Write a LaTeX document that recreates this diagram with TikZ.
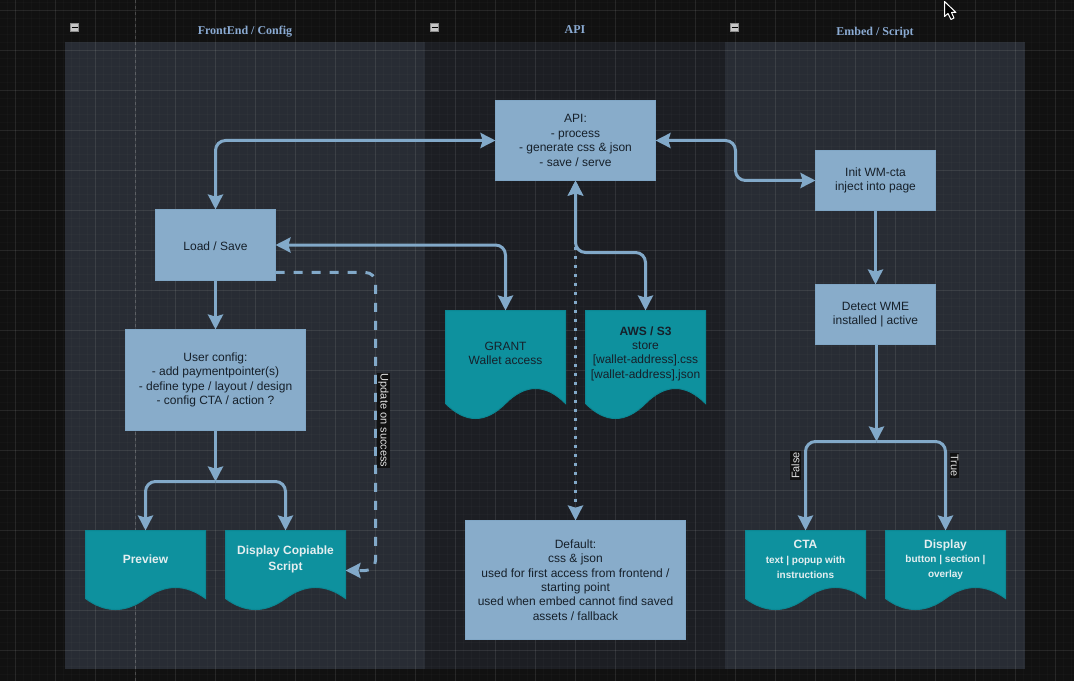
\documentclass[tikz,border=0pt]{standalone}
\usepackage{fontspec}
\setmainfont{Liberation Sans}
\newfontfamily\titlefont{Liberation Serif}
\usepackage{xcolor}
\usetikzlibrary{arrows.meta,positioning}
\definecolor{canvasbg}{HTML}{111111}
\definecolor{lanefill}{HTML}{282C34}
\definecolor{lanedark}{HTML}{1C1E23}
\definecolor{boxfill}{HTML}{88ACCA}
\definecolor{boxline}{HTML}{80A6C5}
\definecolor{docfill}{HTML}{0E919E}
\definecolor{docline}{HTML}{0C8793}
\definecolor{linkcol}{HTML}{82A9C9}
\definecolor{titlecol}{HTML}{8BABD3}
\definecolor{inkdark}{HTML}{16202A}
\definecolor{inklight}{HTML}{E4EEF0}
\pgfdeclarelayer{lanes}
\pgfdeclarelayer{docs}
\pgfsetlayers{lanes,docs,main}
% wave outline behind a document node: name, end offset, bulge
\newcommand{\wavedoc}[3]{%
  \begin{pgfonlayer}{docs}
    \filldraw[fill=docfill, draw=docline, line width=.75pt]
      (#1.north west) -- (#1.north east) -- ([shift={(0,#2)}]#1.south east)
      .. controls ([shift={(-20,#2-#3)}]#1.south east) and ([shift={(-40,#2-#3)}]#1.south east) .. ([shift={(-60,#2)}]#1.south east)
      .. controls ([shift={(-80,#2+#3)}]#1.south east) and ([shift={(-100,#2+#3)}]#1.south east) .. ([shift={(-120,#2)}]#1.south east)
      -- cycle;
  \end{pgfonlayer}}
\newcommand{\smallline}[1]{{\fontsize{7.5pt}{11.2pt}\selectfont #1}}

\begin{document}
\begin{tikzpicture}[
  x=0.75pt, y=-0.75pt,
  font=\fontsize{9pt}{10.8pt}\selectfont,
  flowbox/.style={draw=boxline, fill=boxfill, text=inkdark, align=center, inner sep=1pt, outer sep=0pt, line width=.75pt, execute at begin node={\rule{0pt}{8pt}}},
  docbox/.style={text=inkdark, align=center, inner sep=1pt, outer sep=0pt, minimum width=90pt},
  tallbox/.style={docbox, minimum height=64.5pt, execute at begin node={\rule{0pt}{8pt}}},
  shortbox/.style={docbox, minimum height=43.5pt, text=inklight, font=\fontsize{9pt}{11.6pt}\selectfont\bfseries},
  link/.style={draw=linkcol, line width=2.25pt, rounded corners=7.5pt},
  >={Stealth[length=11.25pt,width=11.25pt,inset=1.6pt]},
  lanetitle/.style={text=titlecol, text height=6.5pt, text depth=2pt, font=\titlefont\fontsize{9pt}{10.8pt}\selectfont\bfseries},
  edgelabel/.style={fill=canvasbg, text=white!88!black, inner sep=.8pt, font=\fontsize{8.25pt}{9pt}\selectfont},
]
\useasboundingbox (0,0) rectangle (1074,681);
\begin{pgfonlayer}{lanes}
  \fill[canvasbg] (0,0) rectangle (1074,681);
  \fill[lanefill] (65,42) rectangle (425,669);
  \fill[lanedark] (425,42) rectangle (725,669);
  \fill[lanefill] (725,42) rectangle (1025,669);
  % grid
  \foreach \gx in {7.5,15.5,...,1074} \draw[white, opacity=.018, line width=.75pt] (\gx,0) -- (\gx,681);
  \foreach \gy in {2.5,10.5,...,681} \draw[white, opacity=.018, line width=.75pt] (0,\gy) -- (1074,\gy);
  \foreach \gx in {15.5,55.5,...,1074} \draw[white, opacity=.075, line width=.75pt] (\gx,0) -- (\gx,681);
  \foreach \gy in {10.5,50.5,...,681} \draw[white, opacity=.075, line width=.75pt] (0,\gy) -- (1074,\gy);
  \draw[white, opacity=.17, line width=.75pt, dash pattern=on 2.25pt off 2.25pt] (135.5,0) -- (135.5,681);
\end{pgfonlayer}

\begin{scope}[shift={(0.5,0.5)}]
% lane headers
\node[lanetitle] (frontitle) at (244.5,31) {FrontEnd / Config};
\node[lanetitle] (apititle) at (574.5,30.5) {API};
\node[lanetitle] (embedtitle) at (874.5,32) {Embed / Script};
\foreach \fx/\fn in {74/foldf, 434/folda, 734/folde} {
  \node[draw=white!55!black, fill=white!78!black, minimum size=6pt, inner sep=0pt] (\fn) at (\fx,27) {};
  \draw[black, line width=.75pt] ([xshift=-2.25pt]\fn.center) -- ([xshift=2.25pt]\fn.center);
}

% API lane
\node[flowbox, minimum width=120pt, minimum height=60pt] (api) at (575,140) {API:\\- process\\- generate css \& json\\- save / serve};
\node[tallbox] (grant) at (505,353) {GRANT\\Wallet access};
\node[tallbox, right=15pt of grant] (aws) {\textbf{AWS / S3}\\store\\{[wallet-address].css}\\{[wallet-address].json}};
\node[flowbox, minimum width=165pt, minimum height=89.25pt] (default) at (575,579.5) {Default:\\css \& json\\used for first access from frontend /\\starting point\\used when embed cannot find saved\\assets / fallback};
\wavedoc{grant}{7}{20}
\wavedoc{aws}{7}{20}

% front end lane
\node[flowbox, minimum width=90pt, minimum height=53.25pt, execute at begin node={}] (load) at (215,244.5) {Load / Save};
\node[flowbox, minimum width=135pt, minimum height=75.75pt, below=36.75pt of load] (config) {User config:\\- add paymentpointer(s)\\- define type / layout / design\\- config CTA / action ?};
\node[shortbox] (preview) at (145,559) {Preview};
\node[shortbox, right=15pt of preview] (copyable) {Display Copiable\\Script};
\wavedoc{preview}{10}{14.7}
\wavedoc{copyable}{10}{14.7}

% embed lane
\node[flowbox, minimum width=90pt, minimum height=45pt] (init) at (875,180) {Init WM-cta\\inject into page};
\node[flowbox, minimum width=90pt, minimum height=45pt, below=55.5pt of init] (detect) {Detect WME\\installed | active};
\node[shortbox, font=\fontsize{9pt}{11pt}\selectfont\bfseries] (cta) at (805,559) {CTA\\\smallline{text | popup with}\\\smallline{instructions}};
\node[shortbox, font=\fontsize{9pt}{11pt}\selectfont\bfseries, right=15pt of cta] (show) {Display\\\smallline{button | section |}\\\smallline{overlay}};
\wavedoc{cta}{10}{14.7}
\wavedoc{show}{10}{14.7}

% turning points
\coordinate (elbow) at (735,140);
\coordinate (awsturn) at (645,252);
\coordinate (configsplit) at (215,481);
\coordinate (detectsplit) at (876,441);
\coordinate (dashcorner) at (375,272);

% connectors
\draw[link,<->] (api.west) -| (load.north);
\draw[link,<->] (api.east) -- (elbow) |- (init.west);
\draw[link,->] (init) -- (detect);
\draw[link,->] ([xshift=.75pt]detect.south) -- (detectsplit);
\draw[link,->] (detectsplit) -| (cta.north);
\draw[link,->] (detectsplit) -| (show.north);
\draw[link,->] (load) -- (config);
\draw[link,->] (config) -- (configsplit);
\draw[link,->] (configsplit) -| (preview.north);
\draw[link,->] (configsplit) -| (copyable.north);
\draw[link,<->] (load.east) -| (grant.north);
\draw[link,<->] (api.south) |- (awsturn) -- (aws.north);
\draw[link,<->,dash pattern=on 2.25pt off 4.5pt] (api.south) -- (default.north);
\draw[link,->,dash pattern=on 6.75pt off 6.75pt] ([yshift=-20.6pt]load.east) -- (dashcorner) |- ([yshift=-8.25pt]copyable.east);

% connector labels
\node[edgelabel, rotate=-90] (updatelabel) at (383,420) {Update on success};
\node[edgelabel, rotate=90] (falselabel) at (795,465) {False};
\node[edgelabel, rotate=-90] (truelabel) at (954,465) {True};

% pointer
\filldraw[fill=black, draw=white, line width=.75pt, line join=round] (944,1) -- (944,16) -- (947.5,13) -- (950.5,19) -- (953.5,17.5) -- (951,12) -- (955.5,12) -- cycle;
\end{scope}
\end{tikzpicture}
\end{document}
